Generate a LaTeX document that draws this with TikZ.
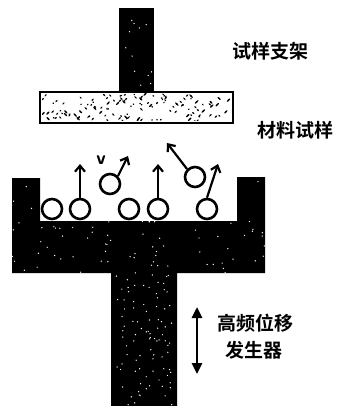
\documentclass[tikz,border=0pt]{standalone}
\usepackage{fontspec}
\newfontfamily\cjk{Noto Sans CJK SC Bold}
\usetikzlibrary{arrows.meta}
\begin{document}
\begin{tikzpicture}[x=1pt,y=-1pt,
  label/.style={font=\cjk\fontsize{19}{22}\selectfont, inner sep=0pt},
  ball/.style={draw, fill=white, line width=2.6pt, circle, minimum size=20pt, inner sep=0pt},
  kick/.style={line width=2.2pt, -{Straight Barb[length=6pt,width=10pt,line width=2.2pt]}},
  move/.style={line width=2.6pt, {Triangle[length=11pt,width=10pt]}-{Triangle[length=11pt,width=10pt]}}]
\useasboundingbox (0,0) rectangle (342,406);
\pgfmathsetseed{7}
% sample holder stem
\fill (119,8) rectangle (154,92);
\foreach \i in {1,...,12}
  \fill[white] (121+rnd*31, 12+rnd*76) circle (0.7);
% material specimen plate with stippled texture
\draw[line width=2pt, fill=white] (40,92) rectangle (233,123);
\begin{scope}
  \clip (42,94) rectangle (231,121);
  \foreach \i in {1,...,130}{
    \pgfmathsetmacro\px{42+rnd*189}
    \pgfmathsetmacro\py{94+rnd*27}
    \pgfmathsetmacro\pa{45+90*round(rnd)}
    \pgfmathsetmacro\pl{0.8+rnd*1.6}
    \fill[shift={(\px,\py)}, rotate=\pa] (0,0) ellipse ({\pl} and 0.8);
  }
\end{scope}
% vibrating cup with shaft
\def\cuppath{(12,178) -- (40,178) -- (40,221) -- (237,221) -- (237,177) -- (265,177) -- (265,273) -- (177,273) -- (177,406) -- (111,406) -- (111,273) -- (12,273) -- cycle}
\fill \cuppath;
\begin{scope}
  \clip \cuppath;
  \foreach \i in {1,...,110}
    \fill[white] (12+rnd*253, 180+rnd*93) circle (0.7);
  \foreach \i in {1,...,90}
    \fill[white] (113+rnd*62, 275+rnd*130) circle (0.7);
\end{scope}
% balls resting on the floor
\node[ball] (b1) at (52,209) {};
\node[ball] (b2) at (80,209) {};
\node[ball] (b3) at (129,209) {};
\node[ball] (b4) at (158,209) {};
\node[ball] (b5) at (207,209) {};
% balls in flight
\node[ball] (f1) at (110,184) {};
\node[ball] (f2) at (195,177) {};
% velocity arrows
\coordinate (t2) at (80,164);
\coordinate (t4) at (158,164);
\coordinate (t5) at (218,164);
\coordinate (tf1) at (128,156);
\coordinate (tf2) at (167,143);
\draw[kick] (b2.north) -- (t2);
\draw[kick] (b4.north) -- (t4);
\draw[kick] (b5.north) -- (t5);
\draw[kick] (f1.north east) -- (tf1);
\draw[kick] (f2.north west) -- (tf2);
\node[font=\sffamily\bfseries\fontsize{19}{20}\selectfont, inner sep=0pt] (v) at (101,160) {v};
% labels
\node[label] (holder) at (270,51) {试样支架};
\node[label] (sample) at (295,130) {材料试样};
\node[label] (gen1) at (255,323) {高频位移};
\node[label] (gen2) at (254,350) {发生器};
\coordinate (up) at (197,307);
\coordinate (dn) at (197,374);
\draw[move] (up) -- (dn);
\end{tikzpicture}
\end{document}
